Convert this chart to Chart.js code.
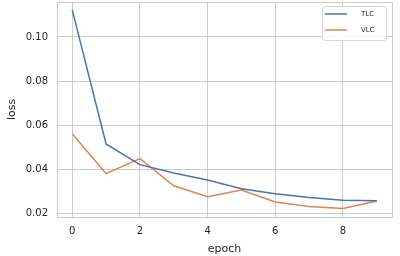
<!DOCTYPE html>
<html lang="en">
  <head>
    <meta charset="UTF-8" />
    <title>Loss</title>
    <script src="https://cdn.jsdelivr.net/npm/chart.js"></script>
    <style>
      body {
        margin: 0;
        background: #ffffff;
      }
      .wrap {
        width: 400px;
        height: 256px;
      }
    </style>
  </head>
  <body>
    <div class="wrap"><canvas id="lossChart" width="400" height="256"></canvas></div>

    <script>
      const epochs = [0, 1, 2, 3, 4, 5, 6, 7, 8, 9];
      const tlcLoss = [0.1123, 0.0514, 0.0420, 0.0382, 0.0350, 0.0310, 0.0288, 0.0271, 0.0258, 0.0256];
      const vlcLoss = [0.0560, 0.0379, 0.0447, 0.0324, 0.0274, 0.0305, 0.0250, 0.0230, 0.0221, 0.0255];
      const xTicks = [0, 2, 4, 6, 8];
      const yTicks = [0.02, 0.04, 0.06, 0.08, 0.10];

      const textColor = "#262626";
      const gridColor = "#cccccc";

      // frame round the plot area, like matplotlib spines
      const frame = {
        id: "frame",
        afterDraw(chart) {
          const { ctx, chartArea: a } = chart;
          ctx.save();
          ctx.strokeStyle = gridColor;
          ctx.lineWidth = 1;
          ctx.strokeRect(a.left + 0.5, a.top + 0.5, a.right - a.left, a.bottom - a.top);
          ctx.restore();
        },
      };

      // small legend box in the upper right corner
      const boxLegend = {
        id: "boxLegend",
        afterDraw(chart) {
          const { ctx } = chart;
          const x = 322, y = 6, w = 64, h = 34;
          ctx.save();
          ctx.fillStyle = "rgba(255,255,255,0.85)";
          ctx.strokeStyle = "#d6d6d6";
          ctx.lineWidth = 1;
          ctx.beginPath();
          ctx.roundRect(x + 0.5, y + 0.5, w, h, 3);
          ctx.fill();
          ctx.stroke();
          ctx.font = "7px 'DejaVu Sans'";
          ctx.textBaseline = "middle";
          chart.data.datasets.forEach((ds, i) => {
            const ly = y + 8 + i * 16;
            ctx.strokeStyle = ds.borderColor;
            ctx.lineWidth = 1.5;
            ctx.beginPath();
            ctx.moveTo(x + 3, ly);
            ctx.lineTo(x + 25, ly);
            ctx.stroke();
            ctx.fillStyle = textColor;
            ctx.fillText(ds.label, x + 39, ly);
          });
          ctx.restore();
        },
      };

      new Chart(document.getElementById("lossChart").getContext("2d"), {
        type: "line",
        data: {
          labels: epochs,
          datasets: [
            {
              label: "TLC",
              data: epochs.map((e, i) => ({ x: e, y: tlcLoss[i] })),
              borderColor: "#4c72b0",
              borderWidth: 1.5,
              pointRadius: 0,
              tension: 0,
            },
            {
              label: "VLC",
              data: epochs.map((e, i) => ({ x: e, y: vlcLoss[i] })),
              borderColor: "#dd8452",
              borderWidth: 1.5,
              pointRadius: 0,
              tension: 0,
            },
          ],
        },
        options: {
          responsive: false,
          animation: false,
          layout: { padding: { top: 2, right: 8, left: 0, bottom: 0 } },
          plugins: {
            legend: { display: false },
            tooltip: { enabled: false },
          },
          scales: {
            x: {
              type: "linear",
              min: -0.45,
              max: 9.45,
              afterBuildTicks: (s) => {
                s.ticks = xTicks.map((v) => ({ value: v }));
              },
              afterFit: (s) => {
                s.height = 39;
                s.paddingLeft = 0;
                s.paddingRight = 0;
              },
              grid: { color: gridColor, drawTicks: false },
              border: { display: false },
              ticks: {
                color: textColor,
                font: { family: "DejaVu Sans", size: 10 },
                padding: 8,
                maxRotation: 0,
              },
              title: {
                display: true,
                text: "epoch",
                color: textColor,
                font: { family: "DejaVu Sans", size: 11 },
                padding: { top: 3, bottom: 0 },
              },
            },
            y: {
              min: 0.0182,
              max: 0.1159,
              afterBuildTicks: (s) => {
                s.ticks = yTicks.map((v) => ({ value: v }));
              },
              afterFit: (s) => {
                s.width = 57;
                s.paddingTop = 0;
                s.paddingBottom = 0;
              },
              grid: { color: gridColor, drawTicks: false },
              border: { display: false },
              ticks: {
                color: textColor,
                font: { family: "DejaVu Sans", size: 10 },
                padding: 9,
                callback: (v) => v.toFixed(2),
              },
              title: {
                display: true,
                text: "loss",
                color: textColor,
                font: { family: "DejaVu Sans", size: 11 },
                padding: { top: 6, bottom: 0 },
              },
            },
          },
        },
        plugins: [frame, boxLegend],
      });
    </script>
  </body>
</html>
